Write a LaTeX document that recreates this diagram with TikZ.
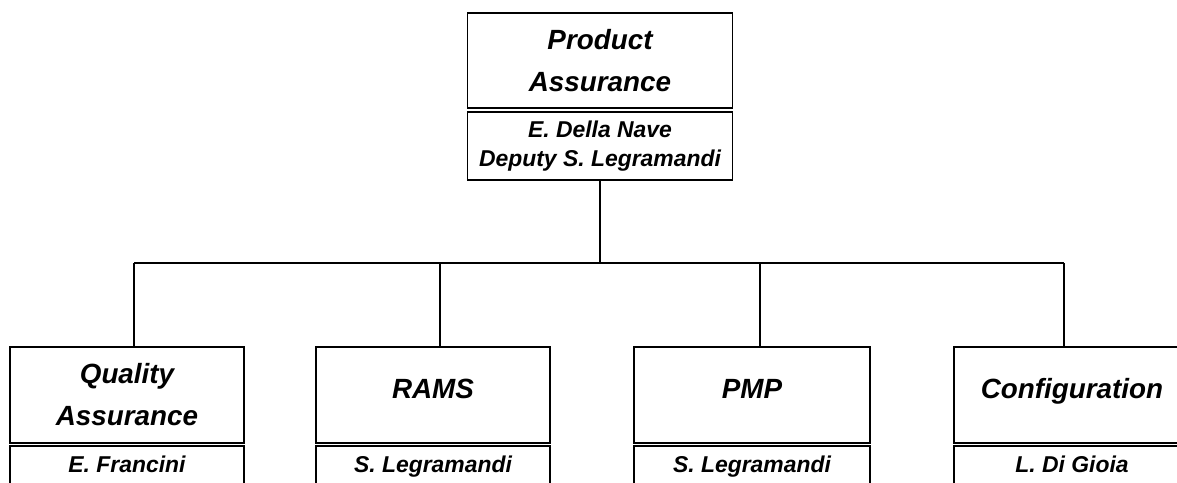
\documentclass[tikz,border=0pt]{standalone}
\usepackage{fontspec}
\setmainfont{Liberation Sans}
\usepackage{tikz}
\usetikzlibrary{positioning}

\begin{document}
\begin{tikzpicture}[x=1pt,y=-1pt,line width=1.5pt]
        \tikzset{unitbox/.style={draw,inner sep=0pt,outer sep=0pt,align=center,
                font=\fontsize{27.8}{42}\selectfont\bfseries\itshape},
            headbox/.style={draw,inner sep=0pt,outer sep=0pt,align=center,
                font=\fontsize{22.9}{29}\selectfont\bfseries\itshape},
            oneline/.style={text height=20pt,text depth=14pt},
            onename/.style={text height=17pt,text depth=3pt}}
        \useasboundingbox (0,0) rectangle (1177,482);
        \clip (0,0) rectangle (1177,482);
        % top unit
        \node[unitbox,minimum width=265,minimum height=95] (pa) at (600,60.5) {Product\\Assurance};
        \node[headbox,minimum width=265,minimum height=68,below=4pt of pa] (pahead) {E. Della Nave\\Deputy S. Legramandi};
        % sub units
        \node[unitbox,minimum width=234,minimum height=96] (qa) at (127,395) {Quality\\Assurance};
        \node[headbox,onename,minimum width=234,minimum height=38,below=3pt of qa] (qahead) {E. Francini};
        \node[unitbox,oneline,minimum width=234,minimum height=96] (rams) at (433,395) {RAMS};
        \node[headbox,onename,minimum width=234,minimum height=38,below=3pt of rams] (ramshead) {S. Legramandi};
        \node[unitbox,oneline,minimum width=236,minimum height=96] (pmp) at (752,395) {PMP};
        \node[headbox,onename,minimum width=236,minimum height=38,below=3pt of pmp] (pmphead) {S. Legramandi};
        \node[unitbox,oneline,minimum width=236,minimum height=96] (cfg) at (1072,395) {Configuration};
        \node[headbox,onename,minimum width=236,minimum height=38,below=3pt of cfg] (cfghead) {L. Di Gioia};
        % connectors
        \coordinate (j1) at (134,263);
        \coordinate (j2) at (440,263);
        \coordinate (j3) at (760,263);
        \coordinate (j4) at (1064,263);
        \draw (pahead.south) -- (pahead.south |- j1);
        \draw (j1) -- (j4);
        \foreach \u/\j in {qa/j1,rams/j2,pmp/j3,cfg/j4}
            \draw (\j) -- (\j |- \u.north);
    \end{tikzpicture}
\end{document}
